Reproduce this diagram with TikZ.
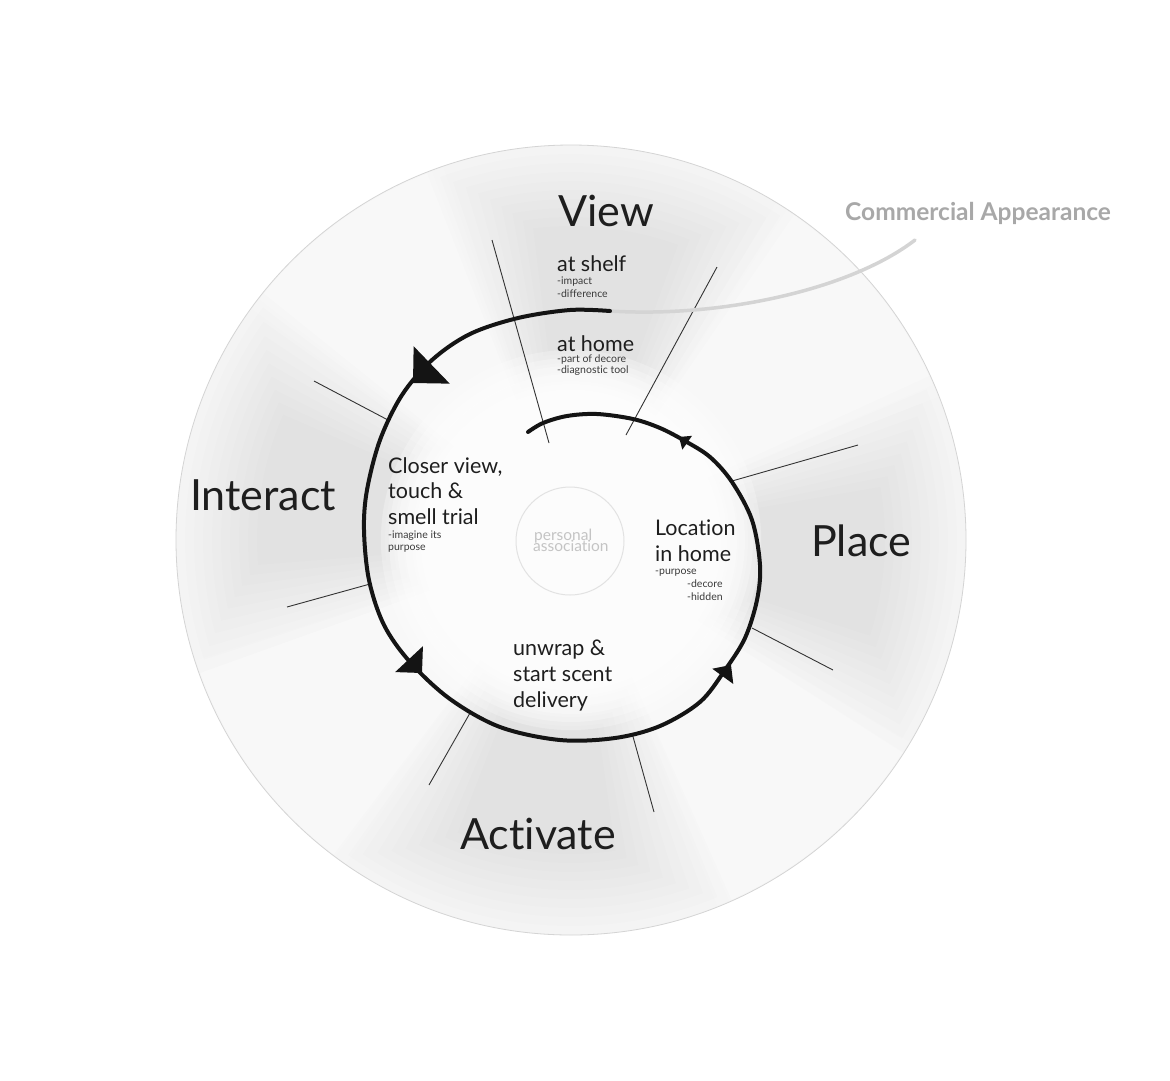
\documentclass[tikz,border=0pt]{standalone}
\usepackage{fontspec}
\setmainfont{Lato}[Ligatures={NoCommon}]
\definecolor{ink}{HTML}{1E1E1E}
\definecolor{subink}{HTML}{3A3A3A}
\definecolor{rimgray}{HTML}{D4D4D4}
\definecolor{commgray}{HTML}{A8A8A8}
\definecolor{commline}{HTML}{D4D4D4}
\definecolor{assoc}{HTML}{C4C4C4}
\definecolor{assocrim}{HTML}{E2E2E2}
\definecolor{diskgray}{HTML}{F6F6F6}
\tikzset{
  biglabel/.style={font=\fontsize{43}{43}\selectfont, text=ink, inner sep=0pt, anchor=base west},
  midlabel/.style={font=\fontsize{21.5}{21.5}\selectfont, text=ink, inner sep=0pt, anchor=base west},
  sublabel/.style={font=\fontsize{10.5}{10.5}\selectfont, text=subink, inner sep=0pt, anchor=base west},
  assoclabel/.style={font=\fontsize{15.5}{15.5}\selectfont, text=assoc, inner sep=0pt, anchor=base west},
  commlabel/.style={font=\bfseries\fontsize{24.5}{24.5}\selectfont, text=commgray, inner sep=0pt, anchor=base west},
  divider/.style={line width=0.9pt, draw=black!80},
  spiralpath/.style={line width=4pt, draw=black!92, line cap=round},
  headfill/.style={fill=black!92},
  commpath/.style={line width=3.5pt, draw=commline, line cap=round},
}
\newcommand\headtri[5]{\fill[headfill, shift={(#1,#2)}, rotate=#3] (0,0) -- (-#4,#5) -- (-#4,-#5) -- cycle;}
\begin{document}
\begin{tikzpicture}[x=1pt,y=-1pt]
\useasboundingbox (0,0) rectangle (1170,1080);
\fill[white] (0,0) rectangle (1170,1080);
\coordinate (ctr) at (571,540);
% background disk with soft sector shading
\begin{scope}[shift={(ctr)}, yscale=-1]
  \fill[diskgray] (0,0) circle (395);
  % darker section wedges (stacked for a soft gradient)
  \foreach \c/\h in {83.5/21.5, -4/22, 263.5/23.5, 170.5/22.5} {
    \foreach \k in {0,...,9} {
      \pgfmathsetmacro\hh{\h*(1.3-0.075*\k)}
      \pgfmathsetmacro\ri{150+4.5*\k}
      \pgfmathsetmacro\ro{395-9*\k}
      \fill[black, opacity=0.0068] (\c-\hh:\ri) arc[start angle=\c-\hh, end angle=\c+\hh, radius=\ri] -- (\c+\hh:\ro) arc[start angle=\c+\hh, end angle=\c-\hh, radius=\ro] -- cycle;
    }
  }
  % lighter gaps between sections
  \foreach \c/\h in {40/17, 126.5/16, 216.5/17, 310.5/17} {
    \foreach \k in {0,...,7} {
      \pgfmathsetmacro\hh{\h*(1.1-0.11*\k)}
      \fill[white, opacity=0.13] (\c-\hh:165) arc[start angle=\c-\hh, end angle=\c+\hh, radius=165] -- (\c+\hh:394) arc[start angle=\c+\hh, end angle=\c-\hh, radius=394] -- cycle;
    }
  }
  % white centre
  \foreach \r in {190,182,174,166,156,144,130} {
    \fill[white, opacity=0.25] (0,0) circle (\r);
  }
  \draw[rimgray, line width=0.8pt] (0,0) circle (395);
\end{scope}
% dividers
\draw[divider] (492,240) -- (549,443);
\draw[divider] (717,267) -- (626,435);
\draw[divider] (858,445) -- (732,481);
\draw[divider] (833,670) -- (752,628);
\draw[divider] (654,812) -- (632,733);
\draw[divider] (429,785) -- (470,713);
\draw[divider] (287,607) -- (370,584);
\draw[divider] (314,381) -- (388,420);
% commercial appearance line
\coordinate (commstart) at (610,311);
\coordinate (commend) at (915,240);
\draw[commpath] (commstart) .. controls (720,318) and (850,290) .. (commend);
% spiral
\draw[spiralpath] plot[smooth, tension=0.55] coordinates {
 (610,311) (570,310) (518,318) (470,334) (432,360) (402,395) (380,440) (367,490) (364,530)
 (369,580) (384,625) (410,662) (450,699) (500,727) (560,740) (615,738) (660,726) (700,702)
 (725,670) (745,638) (757,600) (760,565) (752,520) (732,482) (710,457) (685,441) (660,428)
 (633,419) (597,414) (567,416) (543,423) (528,432)};
\headtri{413}{383}{224}{26}{26}
\headtri{422}{673}{313}{19}{19}
\headtri{731}{665}{54}{14}{13}
\headtri{679}{437}{145}{10}{8.5}
% personal association
\draw[assocrim, line width=1pt] (570,541) circle (54);
\node[assoclabel] (assoc1) at (534,540) {personal};
\node[assoclabel] (assoc2) at (533,551) {association};
% section titles
\node[biglabel] (view) at (558,226) {View};
\node[biglabel] (place) at (811,556) {Place};
\node[biglabel] (interact) at (190,510) {Interact};
\node[biglabel] (activate) at (460,849) {Activate};
% view texts
\node[midlabel] (shelf) at (557,271) {at shelf};
\node[sublabel] (impact) at (557,284) {-impact};
\node[sublabel] (diff) at (557,297) {-difference};
\node[midlabel] (home) at (557,351) {at home};
\node[sublabel] (decore) at (557,362) {-part of decore};
\node[sublabel] (diag) at (557,373) {-diagnostic tool};
% interact texts
\node[midlabel] (closer1) at (388,473) {Closer view,};
\node[midlabel] (closer2) at (388,498.5) {touch \&};
\node[midlabel] (closer3) at (388,524.5) {smell trial};
\node[sublabel] (imagine1) at (388,538) {-imagine its};
\node[sublabel] (imagine2) at (388,550.5) {purpose};
% place texts
\node[midlabel] (loc1) at (655,535.5) {Location};
\node[midlabel] (loc2) at (655,561) {in home};
\node[sublabel] (purp) at (655,574) {-purpose};
\node[sublabel] (deco) at (687,587) {-decore};
\node[sublabel] (hidd) at (687,600) {-hidden};
% activate texts
\node[midlabel] (unwrap1) at (513,655.5) {unwrap \&};
\node[midlabel] (unwrap2) at (513,681.5) {start scent};
\node[midlabel] (unwrap3) at (513,707) {delivery};
% commercial appearance
\node[commlabel] (comm) at (845,220) {Commercial Appearance};
\end{tikzpicture}
\end{document}
